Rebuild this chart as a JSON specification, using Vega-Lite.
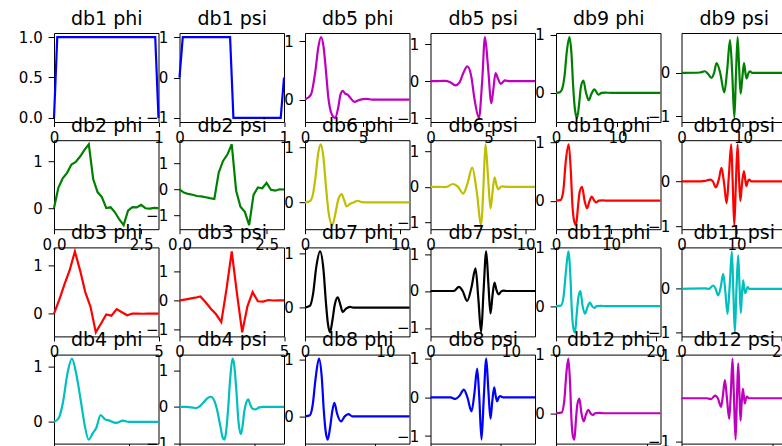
{
"$schema": "https://vega.github.io/schema/vega-lite/v6.json",
"padding": {"left": 17, "top": 8, "right": -2, "bottom": -20},
"columns": 6,
"spacing": {"row": 18.2, "column": 20.5},
"bounds": "flush",
"config": {
 "view": {"stroke": "#000000", "strokeWidth": 1},
 "axis": {"grid": false, "domain": false, "tickColor": "#000000", "tickWidth": 1, "labelColor": "#000000", "labelFont": "DejaVu Sans", "labelFontSize": 15, "titleFont": "DejaVu Sans", "titleFontSize": 19, "titleFontWeight": "normal", "titleColor": "#000000"},
 "axisX": {"tickSize": 4.5, "labelPadding": 3.6, "labelFlush": false, "labelOverlap": false},
 "axisY": {"tickSize": 5.9, "labelPadding": 5.9, "labelOverlap": false}
},
"datasets": {
"db1_phi": [{"x":0,"y":0},{"x":0.03125,"y":1},{"x":0.96875,"y":1},{"x":1,"y":0}],
"db1_psi": [{"x":0,"y":0},{"x":0.03125,"y":1},{"x":0.484,"y":1},{"x":0.516,"y":-1},{"x":0.96875,"y":-1},{"x":1,"y":0}],
"db2_phi": [{"x":0,"y":0},{"x":0.125,"y":0.435},{"x":0.25,"y":0.637},{"x":0.375,"y":0.754},{"x":0.5,"y":0.933},{"x":0.625,"y":0.987},{"x":0.75,"y":1.104},{"x":0.875,"y":1.244},{"x":1,"y":1.366},{"x":1.125,"y":0.621},{"x":1.25,"y":0.342},{"x":1.375,"y":0.234},{"x":1.5,"y":0},{"x":1.625,"y":0.016},{"x":1.75,"y":-0.091},{"x":1.875,"y":-0.245},{"x":2,"y":-0.366},{"x":2.125,"y":-0.056},{"x":2.25,"y":0.021},{"x":2.375,"y":0.013},{"x":2.5,"y":0.067},{"x":2.625,"y":-0.004},{"x":2.75,"y":-0.012},{"x":2.875,"y":0.002},{"x":3,"y":0}],
"db2_psi": [{"x":0,"y":0},{"x":0.125,"y":-0.117},{"x":0.25,"y":-0.171},{"x":0.375,"y":-0.202},{"x":0.5,"y":-0.25},{"x":0.625,"y":-0.265},{"x":0.75,"y":-0.296},{"x":0.875,"y":-0.333},{"x":1,"y":-0.366},{"x":1.125,"y":0.642},{"x":1.25,"y":1.092},{"x":1.375,"y":1.337},{"x":1.5,"y":1.732},{"x":1.625,"y":-0.037},{"x":1.75,"y":-0.658},{"x":1.875,"y":-0.858},{"x":2,"y":-1.366},{"x":2.125,"y":-0.209},{"x":2.25,"y":0.079},{"x":2.375,"y":0.048},{"x":2.5,"y":0.25},{"x":2.625,"y":-0.014},{"x":2.75,"y":-0.046},{"x":2.875,"y":0.008},{"x":3,"y":0}],
"db3_phi": [{"x":0,"y":0},{"x":0.25,"y":0.285},{"x":0.5,"y":0.605},{"x":0.75,"y":0.898},{"x":1,"y":1.286},{"x":1.25,"y":0.89},{"x":1.5,"y":0.441},{"x":1.75,"y":0.139},{"x":2,"y":-0.386},{"x":2.25,"y":-0.203},{"x":2.5,"y":-0.015},{"x":2.75,"y":-0.041},{"x":3,"y":0.095},{"x":3.25,"y":0.03},{"x":3.5,"y":-0.032},{"x":3.75,"y":0.003},{"x":4,"y":0.004},{"x":4.25,"y":-0.002},{"x":4.5,"y":0},{"x":5,"y":0}],
"db3_psi": [{"x":0,"y":0},{"x":0.25,"y":0.03},{"x":0.5,"y":0.064},{"x":0.75,"y":0.095},{"x":1,"y":0.136},{"x":1.25,"y":-0.063},{"x":1.5,"y":-0.288},{"x":1.75,"y":-0.481},{"x":2,"y":-0.751},{"x":2.25,"y":0.403},{"x":2.5,"y":1.701},{"x":2.75,"y":0.234},{"x":3,"y":-1.108},{"x":3.25,"y":-0.204},{"x":3.5,"y":0.288},{"x":3.75,"y":-0.029},{"x":4,"y":-0.04},{"x":4.25,"y":0.015},{"x":4.5,"y":-0.002},{"x":4.75,"y":0},{"x":5,"y":0}],
"db4_phi": [{"x":0,"y":0},{"x":0.3,"y":0.06},{"x":0.6,"y":0.35},{"x":0.9,"y":0.87},{"x":1.2,"y":1.14},{"x":1.5,"y":0.85},{"x":1.83,"y":0.32},{"x":2.05,"y":-0.05},{"x":2.32,"y":-0.32},{"x":2.61,"y":-0.2},{"x":2.83,"y":-0.11},{"x":3.12,"y":0.12},{"x":3.44,"y":0.04},{"x":3.62,"y":0.03},{"x":4.17,"y":-0.02},{"x":4.62,"y":0.02},{"x":5,"y":0},{"x":7,"y":0}],
"db4_psi": [{"x":0,"y":0},{"x":0.5,"y":0},{"x":0.9,"y":-0.02},{"x":1.1,"y":-0.03},{"x":1.3,"y":0},{"x":1.6,"y":0.12},{"x":1.9,"y":0.25},{"x":2.1,"y":0.28},{"x":2.3,"y":0.2},{"x":2.5,"y":-0.05},{"x":2.7,"y":-0.45},{"x":2.9,"y":-0.85},{"x":3,"y":-0.9},{"x":3.1,"y":-0.75},{"x":3.25,"y":-0.1},{"x":3.4,"y":0.8},{"x":3.55,"y":1.33},{"x":3.65,"y":1.2},{"x":3.8,"y":0.5},{"x":3.95,"y":-0.4},{"x":4.1,"y":-0.75},{"x":4.2,"y":-0.6},{"x":4.35,"y":-0.1},{"x":4.5,"y":0.15},{"x":4.6,"y":0.21},{"x":4.75,"y":0.05},{"x":4.9,"y":-0.05},{"x":5.1,"y":-0.07},{"x":5.3,"y":-0.02},{"x":5.6,"y":0},{"x":7,"y":0}],
"db5_phi": [{"x":0,"y":0},{"x":0.5,"y":0.08},{"x":0.9,"y":0.5},{"x":1.15,"y":0.9},{"x":1.38,"y":1.07},{"x":1.6,"y":0.9},{"x":1.8,"y":0.5},{"x":2,"y":0.05},{"x":2.3,"y":-0.25},{"x":2.59,"y":-0.315},{"x":2.85,"y":-0.15},{"x":3.05,"y":0.08},{"x":3.25,"y":0.15},{"x":3.45,"y":0.1},{"x":3.65,"y":0.085},{"x":3.9,"y":0.03},{"x":4.26,"y":-0.04},{"x":4.7,"y":-0.005},{"x":5.3,"y":0.01},{"x":5.8,"y":0},{"x":9,"y":0}],
"db5_psi": [{"x":0,"y":0},{"x":0.8,"y":0.005},{"x":1.3,"y":0.01},{"x":1.7,"y":-0.03},{"x":2.15,"y":-0.11},{"x":2.5,"y":-0.03},{"x":2.8,"y":0.2},{"x":3.17,"y":0.4},{"x":3.5,"y":0.15},{"x":3.8,"y":-0.5},{"x":4.17,"y":-0.99},{"x":4.45,"y":0},{"x":4.69,"y":1.19},{"x":4.95,"y":0.4},{"x":5.24,"y":-0.59},{"x":5.42,"y":-0.2},{"x":5.6,"y":0.22},{"x":5.8,"y":0.08},{"x":6.04,"y":-0.07},{"x":6.25,"y":-0.02},{"x":6.4,"y":0.02},{"x":6.8,"y":0},{"x":9,"y":0}],
"db6_phi": [{"x":0,"y":0},{"x":0.5,"y":0.02},{"x":0.8,"y":0.12},{"x":1.1,"y":0.45},{"x":1.4,"y":0.9},{"x":1.68,"y":1.05},{"x":1.95,"y":0.8},{"x":2.2,"y":0.3},{"x":2.5,"y":-0.2},{"x":2.88,"y":-0.41},{"x":3.2,"y":-0.2},{"x":3.5,"y":0.05},{"x":3.86,"y":0.15},{"x":4.1,"y":0.05},{"x":4.39,"y":-0.07},{"x":4.8,"y":-0.02},{"x":5.1,"y":0},{"x":5.55,"y":0.03},{"x":6,"y":0.005},{"x":6.5,"y":0},{"x":11,"y":0}],
"db6_psi": [{"x":0,"y":0},{"x":1,"y":0},{"x":1.6,"y":-0.01},{"x":2.36,"y":0.08},{"x":2.9,"y":0},{"x":3.44,"y":-0.19},{"x":3.9,"y":0.1},{"x":4.39,"y":0.54},{"x":4.85,"y":-0.1},{"x":5.34,"y":-1.08},{"x":5.57,"y":0},{"x":5.79,"y":1.2},{"x":6.05,"y":0.3},{"x":6.32,"y":-0.61},{"x":6.53,"y":-0.15},{"x":6.74,"y":0.27},{"x":6.95,"y":0.05},{"x":7.13,"y":-0.07},{"x":7.4,"y":0},{"x":7.6,"y":0.01},{"x":8,"y":0},{"x":11,"y":0}],
"db7_phi": [{"x":0,"y":0},{"x":0.6,"y":0.03},{"x":1,"y":0.25},{"x":1.4,"y":0.75},{"x":1.87,"y":1.04},{"x":2.3,"y":0.7},{"x":2.6,"y":0.1},{"x":2.85,"y":-0.3},{"x":3.11,"y":-0.46},{"x":3.4,"y":-0.25},{"x":3.7,"y":0.05},{"x":4.07,"y":0.19},{"x":4.4,"y":0.05},{"x":4.69,"y":-0.08},{"x":5.1,"y":-0.02},{"x":5.6,"y":0.013},{"x":6,"y":0},{"x":13,"y":0}],
"db7_psi": [{"x":0,"y":0},{"x":2.2,"y":0},{"x":2.9,"y":0},{"x":3.53,"y":0.11},{"x":4,"y":0},{"x":4.56,"y":-0.27},{"x":5.1,"y":0.1},{"x":5.6,"y":0.61},{"x":5.95,"y":-0.2},{"x":6.3,"y":-1.12},{"x":6.6,"y":0},{"x":6.93,"y":1.07},{"x":7.2,"y":0.2},{"x":7.46,"y":-0.61},{"x":7.7,"y":-0.15},{"x":7.96,"y":0.23},{"x":8.2,"y":0.03},{"x":8.5,"y":-0.09},{"x":8.8,"y":-0.01},{"x":9.1,"y":0.01},{"x":9.5,"y":0},{"x":13,"y":0}],
"db8_phi": [{"x":0,"y":0},{"x":0.7,"y":0.02},{"x":1.1,"y":0.2},{"x":1.5,"y":0.65},{"x":2.01,"y":1.02},{"x":2.4,"y":0.7},{"x":2.7,"y":0.1},{"x":2.95,"y":-0.25},{"x":3.26,"y":-0.41},{"x":3.6,"y":-0.2},{"x":3.9,"y":0.08},{"x":4.22,"y":0.24},{"x":4.6,"y":0.05},{"x":5.17,"y":-0.09},{"x":5.7,"y":0},{"x":6.23,"y":0.04},{"x":6.8,"y":0},{"x":15,"y":0}],
"db8_psi": [{"x":0,"y":0},{"x":2.87,"y":0},{"x":3.59,"y":-0.04},{"x":4.2,"y":0.05},{"x":4.79,"y":0.2},{"x":5.3,"y":0},{"x":5.89,"y":-0.36},{"x":6.3,"y":0.1},{"x":6.7,"y":0.74},{"x":7,"y":0},{"x":7.32,"y":-1.09},{"x":7.65,"y":0},{"x":8,"y":1},{"x":8.3,"y":0.2},{"x":8.61,"y":-0.55},{"x":8.87,"y":-0.1},{"x":9.14,"y":0.26},{"x":9.35,"y":0.05},{"x":9.57,"y":-0.1},{"x":9.8,"y":0},{"x":10,"y":0.03},{"x":10.4,"y":0},{"x":15,"y":0}],
"db9_phi": [{"x":0,"y":0},{"x":0.6,"y":0.01},{"x":1,"y":0.07},{"x":1.4,"y":0.3},{"x":1.75,"y":0.7},{"x":2.18,"y":0.96},{"x":2.5,"y":0.7},{"x":2.8,"y":0.1},{"x":3.1,"y":-0.3},{"x":3.43,"y":-0.43},{"x":3.75,"y":-0.2},{"x":4.05,"y":0.1},{"x":4.46,"y":0.21},{"x":4.85,"y":0.02},{"x":5.33,"y":-0.125},{"x":5.75,"y":-0.02},{"x":6.25,"y":0.06},{"x":6.9,"y":-0.03},{"x":7.4,"y":0},{"x":8,"y":0.005},{"x":9,"y":0},{"x":17,"y":0}],
"db9_psi": [{"x":0,"y":0},{"x":3,"y":0.01},{"x":3.8,"y":0.04},{"x":4.3,"y":-0.02},{"x":4.9,"y":-0.115},{"x":5.3,"y":0},{"x":5.7,"y":0.23},{"x":6.3,"y":0},{"x":6.96,"y":-0.45},{"x":7.45,"y":0.1},{"x":7.89,"y":0.76},{"x":8.25,"y":0},{"x":8.6,"y":-1.04},{"x":8.87,"y":0},{"x":9.13,"y":0.83},{"x":9.38,"y":0.1},{"x":9.62,"y":-0.48},{"x":9.9,"y":-0.1},{"x":10.17,"y":0.23},{"x":10.4,"y":0},{"x":10.6,"y":-0.13},{"x":10.9,"y":0},{"x":11.15,"y":0.04},{"x":11.5,"y":0},{"x":17,"y":0}],
"db10_phi": [{"x":0,"y":0},{"x":0.8,"y":0.01},{"x":1.3,"y":0.15},{"x":1.8,"y":0.7},{"x":2.31,"y":0.97},{"x":2.7,"y":0.5},{"x":3,"y":-0.1},{"x":3.3,"y":-0.35},{"x":3.64,"y":-0.42},{"x":4,"y":-0.1},{"x":4.3,"y":0.15},{"x":4.73,"y":0.24},{"x":5.2,"y":0},{"x":5.64,"y":-0.13},{"x":6.05,"y":-0.02},{"x":6.5,"y":0.07},{"x":6.9,"y":0.01},{"x":7.27,"y":-0.03},{"x":7.8,"y":0},{"x":8.5,"y":0.005},{"x":9.5,"y":0},{"x":19,"y":0}],
"db10_psi": [{"x":0,"y":0},{"x":3.5,"y":0},{"x":4.3,"y":0.01},{"x":5.2,"y":0.04},{"x":5.7,"y":0},{"x":6.25,"y":-0.135},{"x":6.8,"y":0.05},{"x":7.27,"y":0.3},{"x":7.75,"y":-0.05},{"x":8.2,"y":-0.49},{"x":8.6,"y":0.1},{"x":9.04,"y":0.83},{"x":9.3,"y":0},{"x":9.6,"y":-0.98},{"x":9.9,"y":0},{"x":10.2,"y":0.83},{"x":10.45,"y":0.1},{"x":10.7,"y":-0.44},{"x":11,"y":-0.05},{"x":11.35,"y":0.23},{"x":11.6,"y":0.03},{"x":11.8,"y":-0.11},{"x":12.05,"y":0},{"x":12.3,"y":0.04},{"x":12.7,"y":0},{"x":19,"y":0}],
"db11_phi": [{"x":0,"y":0},{"x":1,"y":0.01},{"x":1.5,"y":0.15},{"x":2,"y":0.6},{"x":2.49,"y":0.94},{"x":2.9,"y":0.5},{"x":3.2,"y":-0.1},{"x":3.5,"y":-0.38},{"x":3.82,"y":-0.45},{"x":4.2,"y":-0.1},{"x":4.5,"y":0.15},{"x":4.9,"y":0.26},{"x":5.35,"y":0},{"x":5.83,"y":-0.13},{"x":6.3,"y":-0.02},{"x":6.83,"y":0.06},{"x":7.25,"y":0},{"x":7.7,"y":-0.03},{"x":8.2,"y":0},{"x":9,"y":0.005},{"x":10,"y":0},{"x":21,"y":0}],
"db11_psi": [{"x":0,"y":0},{"x":4.75,"y":0.01},{"x":5.5,"y":0},{"x":6.37,"y":0.075},{"x":6.85,"y":0},{"x":7.37,"y":-0.15},{"x":7.9,"y":0.05},{"x":8.38,"y":0.34},{"x":8.8,"y":-0.05},{"x":9.25,"y":-0.57},{"x":9.7,"y":0.1},{"x":10.12,"y":0.85},{"x":10.4,"y":0},{"x":10.72,"y":-0.99},{"x":11.05,"y":0},{"x":11.39,"y":0.76},{"x":11.65,"y":0.1},{"x":11.93,"y":-0.55},{"x":12.15,"y":-0.1},{"x":12.4,"y":0.19},{"x":12.6,"y":0},{"x":12.86,"y":-0.1},{"x":13.1,"y":0},{"x":13.3,"y":0.04},{"x":13.6,"y":0},{"x":21,"y":0}],
"db12_phi": [{"x":0,"y":0},{"x":1.2,"y":0.01},{"x":1.8,"y":0.2},{"x":2.3,"y":0.7},{"x":2.72,"y":0.935},{"x":3.1,"y":0.5},{"x":3.4,"y":-0.1},{"x":3.7,"y":-0.38},{"x":4.04,"y":-0.45},{"x":4.4,"y":-0.1},{"x":4.7,"y":0.15},{"x":5.14,"y":0.25},{"x":5.6,"y":0},{"x":6.1,"y":-0.14},{"x":6.6,"y":-0.02},{"x":7.13,"y":0.06},{"x":7.6,"y":0},{"x":8.08,"y":-0.03},{"x":8.6,"y":0},{"x":9.5,"y":0.005},{"x":10.5,"y":0},{"x":23,"y":0}],
"db12_psi": [{"x":0,"y":0},{"x":5.5,"y":0},{"x":6.5,"y":-0.02},{"x":7.4,"y":0.06},{"x":8,"y":0},{"x":8.7,"y":-0.2},{"x":9.1,"y":0.05},{"x":9.55,"y":0.42},{"x":10,"y":0},{"x":10.5,"y":-0.48},{"x":10.85,"y":0.1},{"x":11.23,"y":0.92},{"x":11.55,"y":0},{"x":11.9,"y":-0.96},{"x":12.2,"y":0},{"x":12.48,"y":0.81},{"x":12.75,"y":0.1},{"x":12.99,"y":-0.52},{"x":13.25,"y":-0.1},{"x":13.5,"y":0.22},{"x":13.75,"y":0.02},{"x":13.95,"y":-0.12},{"x":14.2,"y":0},{"x":14.4,"y":0.04},{"x":14.8,"y":0},{"x":23,"y":0}]
},
"concat": [
{"width":104.5,"height":89,"data":{"name":"db1_phi"},"resolve":{"axis":{"x":"independent"}},"layer":[{"mark":{"type":"line","color":"#0000ff","strokeWidth":2.2},"encoding":{"x":{"field":"x","type":"quantitative","scale":{"domain":[0,1],"nice":false,"zero":false},"axis":{"orient":"bottom","values":[0,1],"format":"d","title":null}},"y":{"field":"y","type":"quantitative","scale":{"zero":false,"nice":false,"padding":4.05},"axis":{"values":[0,0.5,1],"format":".1f","title":null}}}},{"mark":{"type":"line","opacity":0},"encoding":{"x":{"field":"x","type":"quantitative","axis":{"orient":"top","title":"db1 phi","labels":false,"ticks":false,"domain":false,"titlePadding":9,"titleBaseline":"alphabetic","minExtent":0,"maxExtent":0}},"y":{"field":"y","type":"quantitative","axis":{"values":[0,0.5,1],"format":".1f","title":null}}}}]},
{"width":104.5,"height":89,"data":{"name":"db1_psi"},"resolve":{"axis":{"x":"independent"}},"layer":[{"mark":{"type":"line","color":"#0000ff","strokeWidth":2.2},"encoding":{"x":{"field":"x","type":"quantitative","scale":{"domain":[0,1],"nice":false,"zero":false},"axis":{"orient":"bottom","values":[0,1],"format":"d","title":null}},"y":{"field":"y","type":"quantitative","scale":{"zero":false,"nice":false,"padding":4.05},"axis":{"values":[-1,0,1],"format":"d","title":null}}}},{"mark":{"type":"line","opacity":0},"encoding":{"x":{"field":"x","type":"quantitative","axis":{"orient":"top","title":"db1 psi","labels":false,"ticks":false,"domain":false,"titlePadding":9,"titleBaseline":"alphabetic","minExtent":0,"maxExtent":0}},"y":{"field":"y","type":"quantitative","axis":{"values":[-1,0,1],"format":"d","title":null}}}}]},
{"width":104.5,"height":89,"data":{"name":"db5_phi"},"resolve":{"axis":{"x":"independent"}},"layer":[{"mark":{"type":"line","color":"#bf00bf","strokeWidth":2.2,"interpolate":"monotone"},"encoding":{"x":{"field":"x","type":"quantitative","scale":{"domain":[0,9],"nice":false,"zero":false},"axis":{"orient":"bottom","values":[0,5],"format":"d","title":null}},"y":{"field":"y","type":"quantitative","scale":{"zero":false,"nice":false,"padding":4.05},"axis":{"values":[0,1],"format":"d","title":null}}}},{"mark":{"type":"line","opacity":0},"encoding":{"x":{"field":"x","type":"quantitative","axis":{"orient":"top","title":"db5 phi","labels":false,"ticks":false,"domain":false,"titlePadding":9,"titleBaseline":"alphabetic","minExtent":0,"maxExtent":0}},"y":{"field":"y","type":"quantitative","axis":{"values":[0,1],"format":"d","title":null}}}}]},
{"width":104.5,"height":89,"data":{"name":"db5_psi"},"resolve":{"axis":{"x":"independent"}},"layer":[{"mark":{"type":"line","color":"#bf00bf","strokeWidth":2.2,"interpolate":"monotone"},"encoding":{"x":{"field":"x","type":"quantitative","scale":{"domain":[0,9],"nice":false,"zero":false},"axis":{"orient":"bottom","values":[0,5],"format":"d","title":null}},"y":{"field":"y","type":"quantitative","scale":{"zero":false,"nice":false,"padding":4.05},"axis":{"values":[-1,0,1],"format":"d","title":null}}}},{"mark":{"type":"line","opacity":0},"encoding":{"x":{"field":"x","type":"quantitative","axis":{"orient":"top","title":"db5 psi","labels":false,"ticks":false,"domain":false,"titlePadding":9,"titleBaseline":"alphabetic","minExtent":0,"maxExtent":0}},"y":{"field":"y","type":"quantitative","axis":{"values":[-1,0,1],"format":"d","title":null}}}}]},
{"width":104.5,"height":89,"data":{"name":"db9_phi"},"resolve":{"axis":{"x":"independent"}},"layer":[{"mark":{"type":"line","color":"#008000","strokeWidth":2.2,"interpolate":"monotone"},"encoding":{"x":{"field":"x","type":"quantitative","scale":{"domain":[0,17],"nice":false,"zero":false},"axis":{"orient":"bottom","values":[0,10],"format":"d","title":null}},"y":{"field":"y","type":"quantitative","scale":{"zero":false,"nice":false,"padding":4.05},"axis":{"values":[0,1],"format":"d","title":null}}}},{"mark":{"type":"line","opacity":0},"encoding":{"x":{"field":"x","type":"quantitative","axis":{"orient":"top","title":"db9 phi","labels":false,"ticks":false,"domain":false,"titlePadding":9,"titleBaseline":"alphabetic","minExtent":0,"maxExtent":0}},"y":{"field":"y","type":"quantitative","axis":{"values":[0,1],"format":"d","title":null}}}}]},
{"width":104.5,"height":89,"data":{"name":"db9_psi"},"resolve":{"axis":{"x":"independent"}},"layer":[{"mark":{"type":"line","color":"#008000","strokeWidth":2.2,"interpolate":"monotone"},"encoding":{"x":{"field":"x","type":"quantitative","scale":{"domain":[0,17],"nice":false,"zero":false},"axis":{"orient":"bottom","values":[0,10],"format":"d","title":null}},"y":{"field":"y","type":"quantitative","scale":{"zero":false,"nice":false,"padding":4.05},"axis":{"values":[-1,0],"format":"d","title":null}}}},{"mark":{"type":"line","opacity":0},"encoding":{"x":{"field":"x","type":"quantitative","axis":{"orient":"top","title":"db9 psi","labels":false,"ticks":false,"domain":false,"titlePadding":9,"titleBaseline":"alphabetic","minExtent":0,"maxExtent":0}},"y":{"field":"y","type":"quantitative","axis":{"values":[-1,0],"format":"d","title":null}}}}]},
{"width":104.5,"height":89,"data":{"name":"db2_phi"},"resolve":{"axis":{"x":"independent"}},"layer":[{"mark":{"type":"line","color":"#008000","strokeWidth":2.2},"encoding":{"x":{"field":"x","type":"quantitative","scale":{"domain":[0,3],"nice":false,"zero":false},"axis":{"orient":"bottom","values":[0,2.5],"format":".1f","title":null}},"y":{"field":"y","type":"quantitative","scale":{"zero":false,"nice":false,"padding":4.05},"axis":{"values":[0,1],"format":"d","title":null}}}},{"mark":{"type":"line","opacity":0},"encoding":{"x":{"field":"x","type":"quantitative","axis":{"orient":"top","title":"db2 phi","labels":false,"ticks":false,"domain":false,"titlePadding":9,"titleBaseline":"alphabetic","minExtent":0,"maxExtent":0}},"y":{"field":"y","type":"quantitative","axis":{"values":[0,1],"format":"d","title":null}}}}]},
{"width":104.5,"height":89,"data":{"name":"db2_psi"},"resolve":{"axis":{"x":"independent"}},"layer":[{"mark":{"type":"line","color":"#008000","strokeWidth":2.2},"encoding":{"x":{"field":"x","type":"quantitative","scale":{"domain":[0,3],"nice":false,"zero":false},"axis":{"orient":"bottom","values":[0,2.5],"format":".1f","title":null}},"y":{"field":"y","type":"quantitative","scale":{"zero":false,"nice":false,"padding":4.05},"axis":{"values":[-1,0,1],"format":"d","title":null}}}},{"mark":{"type":"line","opacity":0},"encoding":{"x":{"field":"x","type":"quantitative","axis":{"orient":"top","title":"db2 psi","labels":false,"ticks":false,"domain":false,"titlePadding":9,"titleBaseline":"alphabetic","minExtent":0,"maxExtent":0}},"y":{"field":"y","type":"quantitative","axis":{"values":[-1,0,1],"format":"d","title":null}}}}]},
{"width":104.5,"height":89,"data":{"name":"db6_phi"},"resolve":{"axis":{"x":"independent"}},"layer":[{"mark":{"type":"line","color":"#bfbf00","strokeWidth":2.2,"interpolate":"monotone"},"encoding":{"x":{"field":"x","type":"quantitative","scale":{"domain":[0,11],"nice":false,"zero":false},"axis":{"orient":"bottom","values":[0,10],"format":"d","title":null}},"y":{"field":"y","type":"quantitative","scale":{"zero":false,"nice":false,"padding":4.05},"axis":{"values":[0,1],"format":"d","title":null}}}},{"mark":{"type":"line","opacity":0},"encoding":{"x":{"field":"x","type":"quantitative","axis":{"orient":"top","title":"db6 phi","labels":false,"ticks":false,"domain":false,"titlePadding":9,"titleBaseline":"alphabetic","minExtent":0,"maxExtent":0}},"y":{"field":"y","type":"quantitative","axis":{"values":[0,1],"format":"d","title":null}}}}]},
{"width":104.5,"height":89,"data":{"name":"db6_psi"},"resolve":{"axis":{"x":"independent"}},"layer":[{"mark":{"type":"line","color":"#bfbf00","strokeWidth":2.2,"interpolate":"monotone"},"encoding":{"x":{"field":"x","type":"quantitative","scale":{"domain":[0,11],"nice":false,"zero":false},"axis":{"orient":"bottom","values":[0,10],"format":"d","title":null}},"y":{"field":"y","type":"quantitative","scale":{"zero":false,"nice":false,"padding":4.05},"axis":{"values":[-1,0,1],"format":"d","title":null}}}},{"mark":{"type":"line","opacity":0},"encoding":{"x":{"field":"x","type":"quantitative","axis":{"orient":"top","title":"db6 psi","labels":false,"ticks":false,"domain":false,"titlePadding":9,"titleBaseline":"alphabetic","minExtent":0,"maxExtent":0}},"y":{"field":"y","type":"quantitative","axis":{"values":[-1,0,1],"format":"d","title":null}}}}]},
{"width":104.5,"height":89,"data":{"name":"db10_phi"},"resolve":{"axis":{"x":"independent"}},"layer":[{"mark":{"type":"line","color":"#ff0000","strokeWidth":2.2,"interpolate":"monotone"},"encoding":{"x":{"field":"x","type":"quantitative","scale":{"domain":[0,19],"nice":false,"zero":false},"axis":{"orient":"bottom","values":[0,10],"format":"d","title":null}},"y":{"field":"y","type":"quantitative","scale":{"zero":false,"nice":false,"padding":4.05},"axis":{"values":[0,1],"format":"d","title":null}}}},{"mark":{"type":"line","opacity":0},"encoding":{"x":{"field":"x","type":"quantitative","axis":{"orient":"top","title":"db10 phi","labels":false,"ticks":false,"domain":false,"titlePadding":9,"titleBaseline":"alphabetic","minExtent":0,"maxExtent":0}},"y":{"field":"y","type":"quantitative","axis":{"values":[0,1],"format":"d","title":null}}}}]},
{"width":104.5,"height":89,"data":{"name":"db10_psi"},"resolve":{"axis":{"x":"independent"}},"layer":[{"mark":{"type":"line","color":"#ff0000","strokeWidth":2.2,"interpolate":"monotone"},"encoding":{"x":{"field":"x","type":"quantitative","scale":{"domain":[0,19],"nice":false,"zero":false},"axis":{"orient":"bottom","values":[0,10],"format":"d","title":null}},"y":{"field":"y","type":"quantitative","scale":{"zero":false,"nice":false,"padding":4.05},"axis":{"values":[-1,0],"format":"d","title":null}}}},{"mark":{"type":"line","opacity":0},"encoding":{"x":{"field":"x","type":"quantitative","axis":{"orient":"top","title":"db10 psi","labels":false,"ticks":false,"domain":false,"titlePadding":9,"titleBaseline":"alphabetic","minExtent":0,"maxExtent":0}},"y":{"field":"y","type":"quantitative","axis":{"values":[-1,0],"format":"d","title":null}}}}]},
{"width":104.5,"height":89,"data":{"name":"db3_phi"},"resolve":{"axis":{"x":"independent"}},"layer":[{"mark":{"type":"line","color":"#ff0000","strokeWidth":2.2},"encoding":{"x":{"field":"x","type":"quantitative","scale":{"domain":[0,5],"nice":false,"zero":false},"axis":{"orient":"bottom","values":[0,5],"format":"d","title":null}},"y":{"field":"y","type":"quantitative","scale":{"zero":false,"nice":false,"padding":4.05},"axis":{"values":[0,1],"format":"d","title":null}}}},{"mark":{"type":"line","opacity":0},"encoding":{"x":{"field":"x","type":"quantitative","axis":{"orient":"top","title":"db3 phi","labels":false,"ticks":false,"domain":false,"titlePadding":9,"titleBaseline":"alphabetic","minExtent":0,"maxExtent":0}},"y":{"field":"y","type":"quantitative","axis":{"values":[0,1],"format":"d","title":null}}}}]},
{"width":104.5,"height":89,"data":{"name":"db3_psi"},"resolve":{"axis":{"x":"independent"}},"layer":[{"mark":{"type":"line","color":"#ff0000","strokeWidth":2.2},"encoding":{"x":{"field":"x","type":"quantitative","scale":{"domain":[0,5],"nice":false,"zero":false},"axis":{"orient":"bottom","values":[0,5],"format":"d","title":null}},"y":{"field":"y","type":"quantitative","scale":{"zero":false,"nice":false,"padding":4.05},"axis":{"values":[-1,0,1],"format":"d","title":null}}}},{"mark":{"type":"line","opacity":0},"encoding":{"x":{"field":"x","type":"quantitative","axis":{"orient":"top","title":"db3 psi","labels":false,"ticks":false,"domain":false,"titlePadding":9,"titleBaseline":"alphabetic","minExtent":0,"maxExtent":0}},"y":{"field":"y","type":"quantitative","axis":{"values":[-1,0,1],"format":"d","title":null}}}}]},
{"width":104.5,"height":89,"data":{"name":"db7_phi"},"resolve":{"axis":{"x":"independent"}},"layer":[{"mark":{"type":"line","color":"#000000","strokeWidth":2.2,"interpolate":"monotone"},"encoding":{"x":{"field":"x","type":"quantitative","scale":{"domain":[0,13],"nice":false,"zero":false},"axis":{"orient":"bottom","values":[0,10],"format":"d","title":null}},"y":{"field":"y","type":"quantitative","scale":{"zero":false,"nice":false,"padding":4.05},"axis":{"values":[0,1],"format":"d","title":null}}}},{"mark":{"type":"line","opacity":0},"encoding":{"x":{"field":"x","type":"quantitative","axis":{"orient":"top","title":"db7 phi","labels":false,"ticks":false,"domain":false,"titlePadding":9,"titleBaseline":"alphabetic","minExtent":0,"maxExtent":0}},"y":{"field":"y","type":"quantitative","axis":{"values":[0,1],"format":"d","title":null}}}}]},
{"width":104.5,"height":89,"data":{"name":"db7_psi"},"resolve":{"axis":{"x":"independent"}},"layer":[{"mark":{"type":"line","color":"#000000","strokeWidth":2.2,"interpolate":"monotone"},"encoding":{"x":{"field":"x","type":"quantitative","scale":{"domain":[0,13],"nice":false,"zero":false},"axis":{"orient":"bottom","values":[0,10],"format":"d","title":null}},"y":{"field":"y","type":"quantitative","scale":{"zero":false,"nice":false,"padding":4.05},"axis":{"values":[-1,0,1],"format":"d","title":null}}}},{"mark":{"type":"line","opacity":0},"encoding":{"x":{"field":"x","type":"quantitative","axis":{"orient":"top","title":"db7 psi","labels":false,"ticks":false,"domain":false,"titlePadding":9,"titleBaseline":"alphabetic","minExtent":0,"maxExtent":0}},"y":{"field":"y","type":"quantitative","axis":{"values":[-1,0,1],"format":"d","title":null}}}}]},
{"width":104.5,"height":89,"data":{"name":"db11_phi"},"resolve":{"axis":{"x":"independent"}},"layer":[{"mark":{"type":"line","color":"#00bfbf","strokeWidth":2.2,"interpolate":"monotone"},"encoding":{"x":{"field":"x","type":"quantitative","scale":{"domain":[0,21],"nice":false,"zero":false},"axis":{"orient":"bottom","values":[0,20],"format":"d","title":null}},"y":{"field":"y","type":"quantitative","scale":{"zero":false,"nice":false,"padding":4.05},"axis":{"values":[0,1],"format":"d","title":null}}}},{"mark":{"type":"line","opacity":0},"encoding":{"x":{"field":"x","type":"quantitative","axis":{"orient":"top","title":"db11 phi","labels":false,"ticks":false,"domain":false,"titlePadding":9,"titleBaseline":"alphabetic","minExtent":0,"maxExtent":0}},"y":{"field":"y","type":"quantitative","axis":{"values":[0,1],"format":"d","title":null}}}}]},
{"width":104.5,"height":89,"data":{"name":"db11_psi"},"resolve":{"axis":{"x":"independent"}},"layer":[{"mark":{"type":"line","color":"#00bfbf","strokeWidth":2.2,"interpolate":"monotone"},"encoding":{"x":{"field":"x","type":"quantitative","scale":{"domain":[0,21],"nice":false,"zero":false},"axis":{"orient":"bottom","values":[0,20],"format":"d","title":null}},"y":{"field":"y","type":"quantitative","scale":{"zero":false,"nice":false,"padding":4.05},"axis":{"values":[-1,0],"format":"d","title":null}}}},{"mark":{"type":"line","opacity":0},"encoding":{"x":{"field":"x","type":"quantitative","axis":{"orient":"top","title":"db11 psi","labels":false,"ticks":false,"domain":false,"titlePadding":9,"titleBaseline":"alphabetic","minExtent":0,"maxExtent":0}},"y":{"field":"y","type":"quantitative","axis":{"values":[-1,0],"format":"d","title":null}}}}]},
{"width":104.5,"height":89,"data":{"name":"db4_phi"},"resolve":{"axis":{"x":"independent"}},"layer":[{"mark":{"type":"line","color":"#00bfbf","strokeWidth":2.2,"interpolate":"monotone"},"encoding":{"x":{"field":"x","type":"quantitative","scale":{"domain":[0,7],"nice":false,"zero":false},"axis":{"orient":"bottom","values":[0,5],"format":"d","title":null}},"y":{"field":"y","type":"quantitative","scale":{"zero":false,"nice":false,"padding":4.05},"axis":{"values":[0,1],"format":"d","title":null}}}},{"mark":{"type":"line","opacity":0},"encoding":{"x":{"field":"x","type":"quantitative","axis":{"orient":"top","title":"db4 phi","labels":false,"ticks":false,"domain":false,"titlePadding":9,"titleBaseline":"alphabetic","minExtent":0,"maxExtent":0}},"y":{"field":"y","type":"quantitative","axis":{"values":[0,1],"format":"d","title":null}}}}]},
{"width":104.5,"height":89,"data":{"name":"db4_psi"},"resolve":{"axis":{"x":"independent"}},"layer":[{"mark":{"type":"line","color":"#00bfbf","strokeWidth":2.2,"interpolate":"monotone"},"encoding":{"x":{"field":"x","type":"quantitative","scale":{"domain":[0,7],"nice":false,"zero":false},"axis":{"orient":"bottom","values":[0,5],"format":"d","title":null}},"y":{"field":"y","type":"quantitative","scale":{"zero":false,"nice":false,"padding":4.05},"axis":{"values":[-1,0,1],"format":"d","title":null}}}},{"mark":{"type":"line","opacity":0},"encoding":{"x":{"field":"x","type":"quantitative","axis":{"orient":"top","title":"db4 psi","labels":false,"ticks":false,"domain":false,"titlePadding":9,"titleBaseline":"alphabetic","minExtent":0,"maxExtent":0}},"y":{"field":"y","type":"quantitative","axis":{"values":[-1,0,1],"format":"d","title":null}}}}]},
{"width":104.5,"height":89,"data":{"name":"db8_phi"},"resolve":{"axis":{"x":"independent"}},"layer":[{"mark":{"type":"line","color":"#0000ff","strokeWidth":2.2,"interpolate":"monotone"},"encoding":{"x":{"field":"x","type":"quantitative","scale":{"domain":[0,15],"nice":false,"zero":false},"axis":{"orient":"bottom","values":[0,10],"format":"d","title":null}},"y":{"field":"y","type":"quantitative","scale":{"zero":false,"nice":false,"padding":4.05},"axis":{"values":[0,1],"format":"d","title":null}}}},{"mark":{"type":"line","opacity":0},"encoding":{"x":{"field":"x","type":"quantitative","axis":{"orient":"top","title":"db8 phi","labels":false,"ticks":false,"domain":false,"titlePadding":9,"titleBaseline":"alphabetic","minExtent":0,"maxExtent":0}},"y":{"field":"y","type":"quantitative","axis":{"values":[0,1],"format":"d","title":null}}}}]},
{"width":104.5,"height":89,"data":{"name":"db8_psi"},"resolve":{"axis":{"x":"independent"}},"layer":[{"mark":{"type":"line","color":"#0000ff","strokeWidth":2.2,"interpolate":"monotone"},"encoding":{"x":{"field":"x","type":"quantitative","scale":{"domain":[0,15],"nice":false,"zero":false},"axis":{"orient":"bottom","values":[0,10],"format":"d","title":null}},"y":{"field":"y","type":"quantitative","scale":{"zero":false,"nice":false,"padding":4.05},"axis":{"values":[-1,0,1],"format":"d","title":null}}}},{"mark":{"type":"line","opacity":0},"encoding":{"x":{"field":"x","type":"quantitative","axis":{"orient":"top","title":"db8 psi","labels":false,"ticks":false,"domain":false,"titlePadding":9,"titleBaseline":"alphabetic","minExtent":0,"maxExtent":0}},"y":{"field":"y","type":"quantitative","axis":{"values":[-1,0,1],"format":"d","title":null}}}}]},
{"width":104.5,"height":89,"data":{"name":"db12_phi"},"resolve":{"axis":{"x":"independent"}},"layer":[{"mark":{"type":"line","color":"#bf00bf","strokeWidth":2.2,"interpolate":"monotone"},"encoding":{"x":{"field":"x","type":"quantitative","scale":{"domain":[0,23],"nice":false,"zero":false},"axis":{"orient":"bottom","values":[0,20],"format":"d","title":null}},"y":{"field":"y","type":"quantitative","scale":{"zero":false,"nice":false,"padding":4.05},"axis":{"values":[0,1],"format":"d","title":null}}}},{"mark":{"type":"line","opacity":0},"encoding":{"x":{"field":"x","type":"quantitative","axis":{"orient":"top","title":"db12 phi","labels":false,"ticks":false,"domain":false,"titlePadding":9,"titleBaseline":"alphabetic","minExtent":0,"maxExtent":0}},"y":{"field":"y","type":"quantitative","axis":{"values":[0,1],"format":"d","title":null}}}}]},
{"width":104.5,"height":89,"data":{"name":"db12_psi"},"resolve":{"axis":{"x":"independent"}},"layer":[{"mark":{"type":"line","color":"#bf00bf","strokeWidth":2.2,"interpolate":"monotone"},"encoding":{"x":{"field":"x","type":"quantitative","scale":{"domain":[0,23],"nice":false,"zero":false},"axis":{"orient":"bottom","values":[0,20],"format":"d","title":null}},"y":{"field":"y","type":"quantitative","scale":{"zero":false,"nice":false,"padding":4.05},"axis":{"values":[-1,0,1],"format":"d","title":null}}}},{"mark":{"type":"line","opacity":0},"encoding":{"x":{"field":"x","type":"quantitative","axis":{"orient":"top","title":"db12 psi","labels":false,"ticks":false,"domain":false,"titlePadding":9,"titleBaseline":"alphabetic","minExtent":0,"maxExtent":0}},"y":{"field":"y","type":"quantitative","axis":{"values":[-1,0,1],"format":"d","title":null}}}}]}
]
}
